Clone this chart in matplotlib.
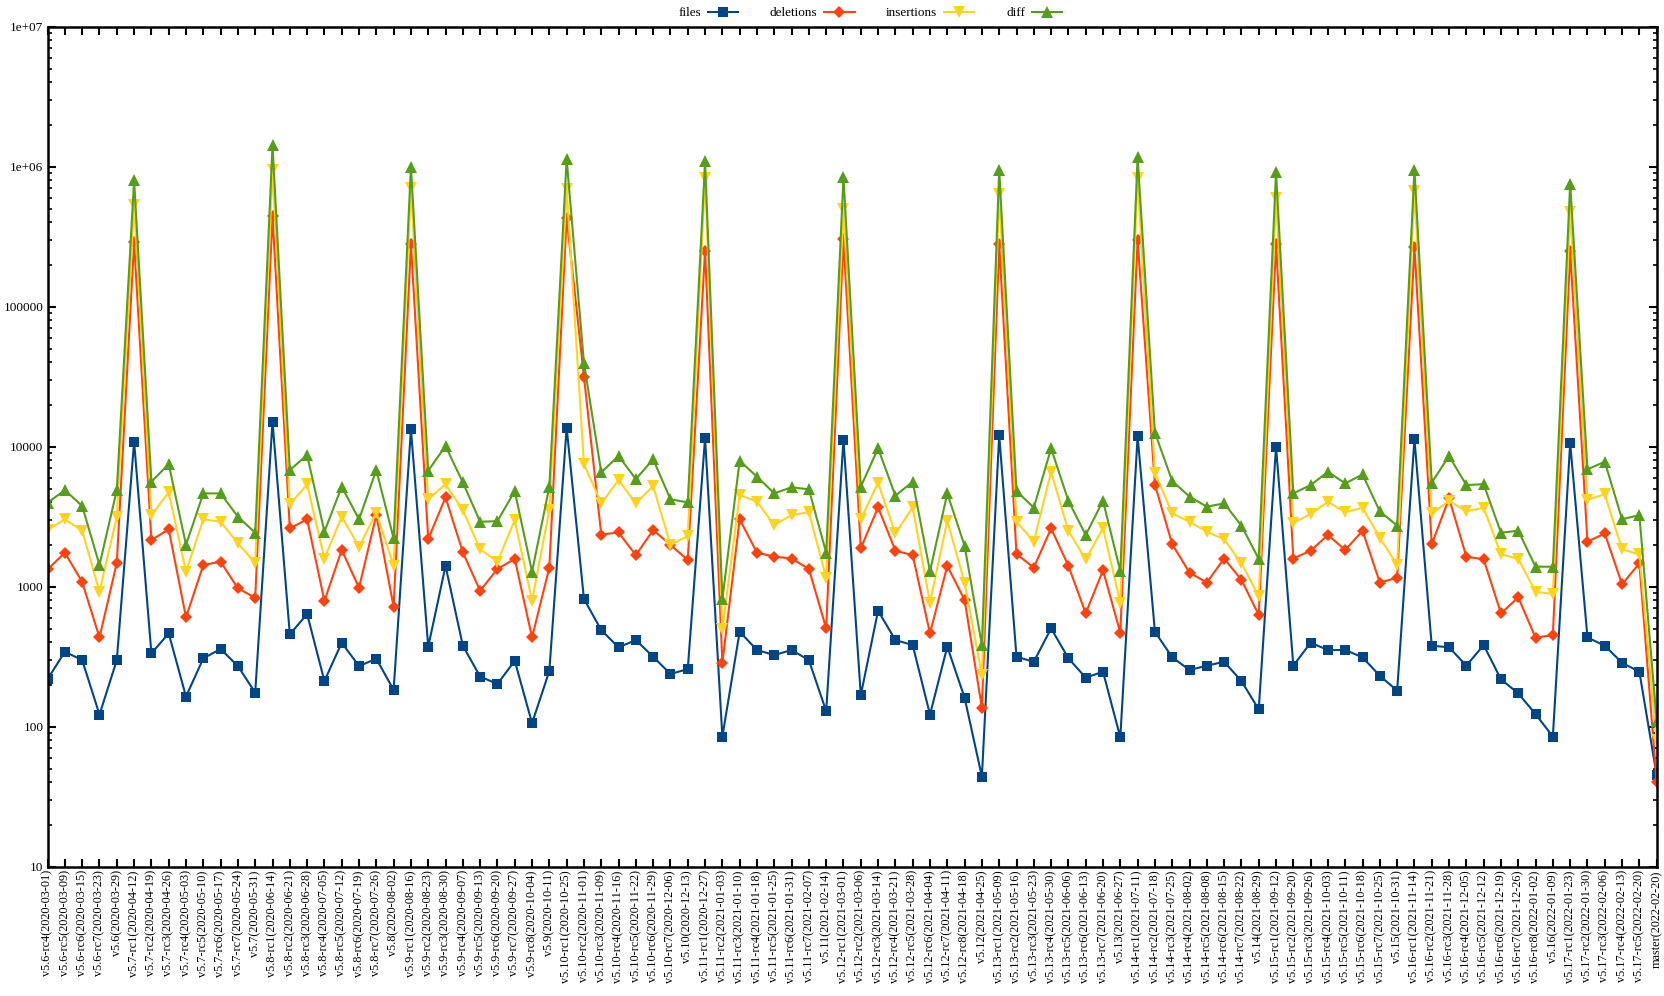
import math
import matplotlib
matplotlib.use("Agg")
import matplotlib.pyplot as plt
from matplotlib.ticker import FixedLocator, LogLocator, FuncFormatter, NullFormatter

# release tags (x axis)
tags = [
    "v5.6-rc4(2020-03-01)", "v5.6-rc5(2020-03-09)", "v5.6-rc6(2020-03-15)", "v5.6-rc7(2020-03-23)",
    "v5.6(2020-03-29)",
    "v5.7-rc1(2020-04-12)", "v5.7-rc2(2020-04-19)", "v5.7-rc3(2020-04-26)", "v5.7-rc4(2020-05-03)",
    "v5.7-rc5(2020-05-10)", "v5.7-rc6(2020-05-17)", "v5.7-rc7(2020-05-24)", "v5.7(2020-05-31)",
    "v5.8-rc1(2020-06-14)", "v5.8-rc2(2020-06-21)", "v5.8-rc3(2020-06-28)", "v5.8-rc4(2020-07-05)",
    "v5.8-rc5(2020-07-12)", "v5.8-rc6(2020-07-19)", "v5.8-rc7(2020-07-26)", "v5.8(2020-08-02)",
    "v5.9-rc1(2020-08-16)", "v5.9-rc2(2020-08-23)", "v5.9-rc3(2020-08-30)", "v5.9-rc4(2020-09-07)",
    "v5.9-rc5(2020-09-13)", "v5.9-rc6(2020-09-20)", "v5.9-rc7(2020-09-27)", "v5.9-rc8(2020-10-04)",
    "v5.9(2020-10-11)",
    "v5.10-rc1(2020-10-25)", "v5.10-rc2(2020-11-01)", "v5.10-rc3(2020-11-09)", "v5.10-rc4(2020-11-16)",
    "v5.10-rc5(2020-11-22)", "v5.10-rc6(2020-11-29)", "v5.10-rc7(2020-12-06)", "v5.10(2020-12-13)",
    "v5.11-rc1(2020-12-27)", "v5.11-rc2(2021-01-03)", "v5.11-rc3(2021-01-10)", "v5.11-rc4(2021-01-18)",
    "v5.11-rc5(2021-01-25)", "v5.11-rc6(2021-01-31)", "v5.11-rc7(2021-02-07)", "v5.11(2021-02-14)",
    "v5.12-rc1(2021-03-01)", "v5.12-rc2(2021-03-06)", "v5.12-rc3(2021-03-14)", "v5.12-rc4(2021-03-21)",
    "v5.12-rc5(2021-03-28)", "v5.12-rc6(2021-04-04)", "v5.12-rc7(2021-04-11)", "v5.12-rc8(2021-04-18)",
    "v5.12(2021-04-25)",
    "v5.13-rc1(2021-05-09)", "v5.13-rc2(2021-05-16)", "v5.13-rc3(2021-05-23)", "v5.13-rc4(2021-05-30)",
    "v5.13-rc5(2021-06-06)", "v5.13-rc6(2021-06-13)", "v5.13-rc7(2021-06-20)", "v5.13(2021-06-27)",
    "v5.14-rc1(2021-07-11)", "v5.14-rc2(2021-07-18)", "v5.14-rc3(2021-07-25)", "v5.14-rc4(2021-08-02)",
    "v5.14-rc5(2021-08-08)", "v5.14-rc6(2021-08-15)", "v5.14-rc7(2021-08-22)", "v5.14(2021-08-29)",
    "v5.15-rc1(2021-09-12)", "v5.15-rc2(2021-09-20)", "v5.15-rc3(2021-09-26)", "v5.15-rc4(2021-10-03)",
    "v5.15-rc5(2021-10-11)", "v5.15-rc6(2021-10-18)", "v5.15-rc7(2021-10-25)", "v5.15(2021-10-31)",
    "v5.16-rc1(2021-11-14)", "v5.16-rc2(2021-11-21)", "v5.16-rc3(2021-11-28)", "v5.16-rc4(2021-12-05)",
    "v5.16-rc5(2021-12-12)", "v5.16-rc6(2021-12-19)", "v5.16-rc7(2021-12-26)", "v5.16-rc8(2022-01-02)",
    "v5.16(2022-01-09)",
    "v5.17-rc1(2022-01-23)", "v5.17-rc2(2022-01-30)", "v5.17-rc3(2022-02-06)", "v5.17-rc4(2022-02-13)",
    "v5.17-rc5(2022-02-20)",
    "master(2022-02-20)",
]

files = [219, 343, 299, 122, 299, 10860, 334, 464, 164, 308, 359, 271, 175, 15100,
         457, 638, 212, 398, 271, 306, 183, 13300, 373, 1410, 379, 228, 202,
         296, 106, 250, 13700, 817, 490, 369, 416, 316, 238, 258, 11500, 85,
         477, 353, 325, 353, 299, 129, 11200, 168, 674, 416, 383, 122, 373, 161,
         44, 12100, 316, 291, 504, 308, 224, 247, 84, 11900, 477, 313, 254,
         273, 291, 212, 133, 10000, 273, 398, 353, 353, 313, 231, 181, 11300,
         379, 369, 273, 383, 218, 173, 123, 85, 10600, 434, 379, 286, 247, 45]

deletions = [1330, 1750, 1080, 434, 1480, 290000, 2150, 2570, 604, 1430, 1510, 973, 834, 447000,
             2610, 3030, 791, 1830, 984, 3250, 719, 280000, 2190, 4350, 1760, 936, 1340,
             1580, 434, 1370, 431000, 31600, 2360, 2440, 1680, 2540, 1990, 1550, 252000, 286,
             3030, 1750, 1640, 1590, 1340, 504, 305000, 1880, 3690, 1810, 1680, 464, 1410, 803,
             137, 280000, 1710, 1370, 2610, 1410, 645, 1310, 469, 300000, 5360, 2010, 1260,
             1070, 1590, 1120, 628, 280000, 1590, 1810, 2340, 1830, 2510, 1070, 1160, 265000,
             2010, 4280, 1640, 1570, 645, 839, 432, 452, 248000, 2100, 2400, 1040, 1470, 40]

insertions = [2540, 3030, 2510, 920, 3160, 535000, 3250, 4720, 1280, 3030, 2910, 2040, 1480, 948000,
              3870, 5380, 1590, 3160, 1930, 3380, 1410, 705000, 4230, 5380, 3530, 1850, 1510,
              2990, 795, 3530, 692000, 7520, 3940, 5780, 3940, 5240, 1990, 2300, 826000, 496,
              4520, 4050, 2760, 3250, 3400, 1160, 498000, 3030, 5530, 2400, 3690, 769, 2960, 1070,
              234, 635000, 2910, 2100, 6620, 2500, 1570, 2620, 769, 826000, 6520, 3340, 2910,
              2470, 2180, 1470, 857, 593000, 2860, 3300, 4050, 3400, 3670, 2240, 1430, 670000,
              3340, 4110, 3450, 3670, 1710, 1580, 920, 887, 472000, 4180, 4580, 1850, 1700, 80]

diff = [3980, 4900, 3770, 1430, 4900, 798000, 5620, 7520, 1990, 4640, 4640, 3160, 2430, 1420000,
        6810, 8710, 2470, 5180, 3030, 6810, 2210, 1000000, 6740, 10100, 5560, 2910, 2940,
        4820, 1280, 5180, 1130000, 39600, 6560, 8580, 5870, 8130, 4210, 4000, 1090000, 817,
        7940, 6110, 4640, 5130, 4960, 1750, 841000, 5180, 9730, 4470, 5620, 1290, 4640, 1960,
        383, 950000, 4820, 3670, 9730, 4110, 2340, 4110, 1290, 1170000, 12600, 5690, 4400,
        3730, 3940, 2730, 1580, 918000, 4640, 5320, 6620, 5470, 6340, 3450, 2730, 950000,
        5530, 8580, 5320, 5400, 2430, 2510, 1390, 1390, 757000, 6890, 7810, 3030, 3250, 110]

plt.rcParams['font.family'] = ['Liberation Serif', 'DejaVu Serif']

fig = plt.figure(figsize=(16.64, 9.96), dpi=100)
ax = fig.add_axes([0.0286, 0.1298, 0.9670, 0.8434])

x = list(range(len(tags)))
series = [
    ("files", files, "#004586", "s", 7),
    ("deletions", deletions, "#ff420e", "D", 6),
    ("insertions", insertions, "#ffd320", "v", 8.5),
    ("diff", diff, "#579d1c", "^", 8.5),
]
for name, vals, col, mk, ms in series:
    ax.plot(x, vals, color=col, lw=1.5, marker=mk, markersize=ms,
            markeredgewidth=0, label=name)

ax.set_yscale("log")
ax.set_ylim(10, 1e7)
ax.set_xlim(0, len(tags) - 1)

ax.xaxis.set_major_locator(FixedLocator(x))
ax.set_xticklabels(tags, rotation=90, fontsize=8.8)
ax.yaxis.set_major_locator(LogLocator(base=10, numticks=20))
ax.yaxis.set_minor_locator(LogLocator(base=10, subs=range(2, 10), numticks=20))
ax.yaxis.set_minor_formatter(NullFormatter())


def ylab(v, pos):
    if v >= 1e6:
        return "1e+%02d" % round(math.log10(v))
    return "%d" % round(v)


ax.yaxis.set_major_formatter(FuncFormatter(ylab))
ax.tick_params(axis="both", which="both", direction="in", top=True, right=True,
               colors="black", pad=3)
ax.tick_params(axis="x", pad=2.5)
ax.tick_params(axis="y", labelsize=9.5)
ax.tick_params(axis="both", which="major", length=6, width=1.5)
ax.tick_params(axis="y", which="minor", length=3, width=1.2)
for sp in ax.spines.values():
    sp.set_linewidth(1.8)

fig.legend(loc="upper center", bbox_to_anchor=(0.523, 1.005), ncol=4, frameon=False,
           markerfirst=False, fontsize=9.5, handlelength=2.3, columnspacing=2.4,
           handletextpad=0.5)

fig.savefig("out.png", dpi=100)
